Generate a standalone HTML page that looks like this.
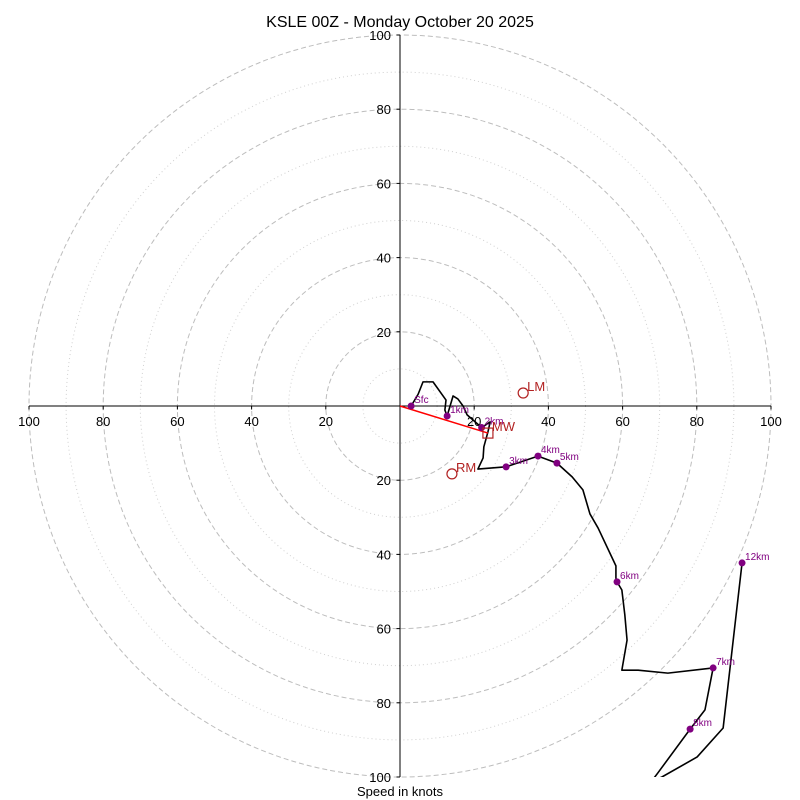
<!DOCTYPE html>
<html><head><meta charset="utf-8"><style>
body{margin:0;background:#fff}
svg{display:block;font-family:"Liberation Sans","DejaVu Sans",sans-serif}
</style></head><body>
<svg id="c" width="800" height="800" viewBox="0 0 800 800">
<defs><clipPath id="clip"><rect x="28" y="35" width="744" height="742"/></clipPath></defs>
<text x="400" y="27" text-anchor="middle" font-size="16">KSLE 00Z - Monday October 20 2025</text>
<text x="400" y="796" text-anchor="middle" font-size="13">Speed in knots</text>
<g id="rings"></g>
<g id="axes"></g>
<g id="plot" clip-path="url(#clip)"></g>
<g id="labels"></g>
</svg>
<script>
const traceU=[3.0,4.9,6.2,8.9,12.4,12.1,12.7,14.3,15.6,17.0,18.1,22.0,24.3,23.7,22.6,22.4,21.0,28.6,37.2,42.3,46.4,49.3,51.2,53.4,58.2,58.2,58.5,59.8,60.6,61.2,59.8,64.2,72.2,84.4,82.2,78.2,69.5,62.0,61.2,70.6,80.1,87.1,92.2];
const traceV=[0,3.2,6.5,6.5,1.6,-1.1,-2.7,2.7,1.9,0,-2.4,-5.8,-4.3,-7.0,-11.0,-14.0,-17.0,-16.4,-13.5,-15.4,-19.1,-22.6,-29.1,-32.9,-43.1,-46.4,-47.4,-49.6,-56.3,-63.1,-71.2,-71.2,-72.0,-70.6,-81.9,-87.1,-98.9,-108.9,-103.8,-100,-94.6,-86.8,-42.3];
const heightNames=["Sfc","1km","2km","3km","4km","5km","6km","7km","8km","12km"];
const heightU=[3.0,12.7,22.0,28.6,37.2,42.3,58.5,84.4,78.2,92.2];
const heightV=[0,-2.7,-5.8,-16.4,-13.5,-15.4,-47.4,-70.6,-87.1,-42.3];
const motionNames=["LM","RM","MW"];
const motionU=[33.2,14.0,23.7];
const motionV=[3.5,-18.3,-7.3];
const tickVals=[-100,-80,-60,-40,-20,20,40,60,80,100];
const cx=400,cy=406,k=3.71;
const X=u=>cx+u*k, Y=v=>cy-v*k;
const NS="http://www.w3.org/2000/svg";
function mk(p,t,a){const e=document.createElementNS(NS,t);for(const n in a)e.setAttribute(n,a[n]);p.appendChild(e);return e;}
const rings=document.getElementById('rings');
for(let r=10;r<=100;r+=10){
  const e=mk(rings,'circle',{cx:cx,cy:cy,r:r*k,fill:'none',stroke:r%20?'#d0d0d0':'#bdbdbd','stroke-width':1,'stroke-dasharray':r%20?'1,3':'5,3'});
  
  
}
const ax=document.getElementById('axes');
mk(ax,'line',{x1:X(-100),y1:cy,x2:X(100),y2:cy,stroke:'#000','stroke-width':1});
mk(ax,'line',{x1:cx,y1:Y(100),x2:cx,y2:Y(-100),stroke:'#000','stroke-width':1});
tickVals.forEach(t=>{
  mk(ax,'line',{x1:X(t),y1:cy,x2:X(t),y2:cy+3.5,stroke:'#000'});
  const tx=mk(ax,'text',{x:X(t),y:cy+20,'text-anchor':'middle','font-size':13});
  tx.textContent=Math.abs(t);
  
  
  mk(ax,'line',{x1:cx,y1:Y(t),x2:cx-3.5,y2:Y(t),stroke:'#000'});
  const ty=mk(ax,'text',{x:cx-9,y:Y(t)+5,'text-anchor':'end','font-size':13});
  ty.textContent=Math.abs(t);
  
  
});
const plot=document.getElementById('plot');
const tr=mk(plot,'polyline',{points:traceU.map((u,i)=>X(u)+','+Y(traceV[i])).join(' '),fill:'none',stroke:'#000','stroke-width':1.6,'stroke-linejoin':'round'});


const sh=mk(plot,'line',{x1:X(0),y1:Y(0),x2:X(motionU[2]),y2:Y(motionV[2]),stroke:'#f00','stroke-width':1.5});


const lab=document.getElementById('labels');
heightNames.forEach((n,i)=>{
  const d=mk(lab,'circle',{cx:X(heightU[i]),cy:Y(heightV[i]),r:3.5,fill:'#800080'});
  
  
  const t=mk(lab,'text',{x:X(heightU[i])+3,y:Y(heightV[i])-3,'font-size':10,fill:'#800080'});
  t.textContent=n;
  
  
});
motionNames.forEach((n,i)=>{
  const x=X(motionU[i]),y=Y(motionV[i]);
  let m;
  if(n==='MW') m=mk(lab,'rect',{x:x-5,y:y-5,width:10,height:10,fill:'none',stroke:'#b22222','stroke-width':1.2});
  else m=mk(lab,'circle',{cx:x,cy:y,r:5,fill:'none',stroke:'#b22222','stroke-width':1.2});
  
  
  const t=mk(lab,'text',{x:x+4,y:y-2,'font-size':13,fill:'#b22222'});
  t.textContent=n;
  
  
});
</script>
</body></html>
